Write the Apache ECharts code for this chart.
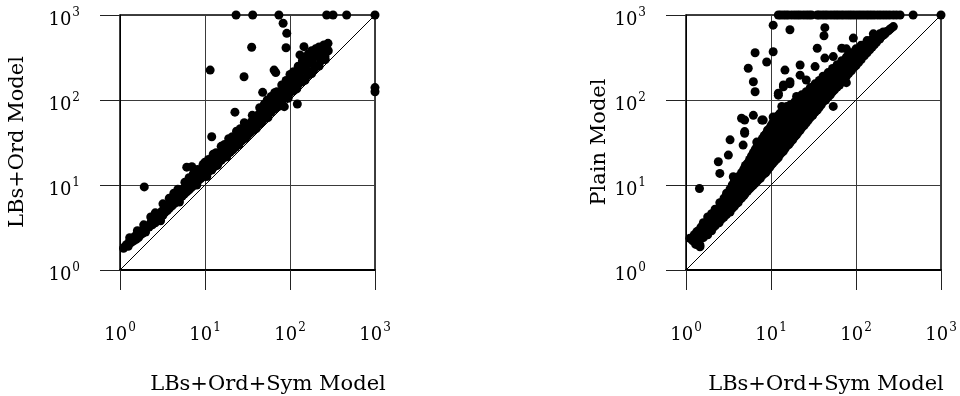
<!DOCTYPE html>
<html>
<head>
<meta charset="utf-8">
<script src="https://cdn.jsdelivr.net/npm/echarts@6/dist/echarts.min.js"></script>
<style>
  html, body { margin: 0; padding: 0; background: #fff; }
  #chart { width: 960px; height: 396px; }
</style>
</head>
<body>
<div id="chart"></div>
<script>
// Solve times per instance: x = LBs+Ord+Sym model, y = the compared model (log scale, 1000 = timeout)
const xTitle = 'LBs+Ord+Sym Model';
const yTitleLeft = 'LBs+Ord Model';
const yTitleRight = 'Plain Model';
const decadeExponents = [0, 1, 2, 3];
const axisMin = 1;
const axisMax = 1000;

// y = x reference line
const diagonal = [[1, 1], [1000, 1000]];

// LBs+Ord model vs LBs+Ord+Sym model
const lbsOrdPoints = [
  [1.1,1.8],[1.15,1.9],[1.2,2.0],[1.25,1.9],[1.3,2.2],[1.35,2.1],[1.4,2.3],[1.45,2.2],[1.5,2.5],[1.55,2.3],
  [1.6,2.6],[1.65,2.4],[1.7,2.8],[1.75,2.6],[1.8,2.9],[1.85,2.7],[1.9,3.0],[2.0,3.1],[2.0,2.8],[2.1,3.3],
  [2.2,3.2],[2.3,3.6],[2.4,3.4],[2.5,3.9],[2.6,3.6],[2.7,4.2],[2.8,3.9],[2.9,4.5],[3.0,4.2],[3.1,4.9],
  [3.2,4.4],[3.3,5.2],[3.4,4.8],[3.5,5.6],[3.6,5.0],[3.7,6.0],[3.8,5.3],[4.0,6.4],[4.1,5.7],[4.2,6.8],
  [4.4,6.1],[4.5,7.3],[4.7,6.5],[4.8,7.9],[5.0,6.9],[5.2,8.5],[5.4,7.4],[5.5,9.0],[5.7,7.8],[5.9,9.6],
  [6.1,8.3],[6.3,10.3],[6.5,8.8],[6.7,11.0],[6.9,9.3],[7.1,11.8],[7.4,9.9],[7.6,12.5],[7.8,10.5],[8.0,13.2],
  [8.3,11.2],[8.6,14.0],[8.9,11.9],[9.2,15.0],[9.5,12.6],[9.8,16.0],[10.2,13.4],[10.5,17],[10.9,14.2],[11.3,18],
  [11.7,15.1],[12.1,19.5],[12.6,16.1],[13,21],[13.5,17.2],[14,22.5],[14.5,18.4],[15,24],[15.6,19.7],[16.2,26],
  [16.8,21],[17.5,28],[18.2,22.6],[19,30],[19.7,24.3],[20.5,33],[21.3,26],[22.2,35],[23,28],[24,38],
  [25,30],[26,41],[27,33],[28,44],[29,35],[30.5,48],[31.5,38],[33,52],[34,41],[35.5,56],
  [37,44],[38.5,61],[40,48],[41.5,66],[43,52],[45,71],[47,56],[49,77],[51,61],[53,84],
  [55,66],[57,91],[60,72],[62,99],[65,78],[67,107],[70,85],[73,116],[76,92],[79,126],
  [82,100],[86,137],[89,108],[93,148],[97,117],[101,160],[105,127],[110,175],[114,138],[119,190],
  [124,150],[130,210],[135,163],[141,228],[147,177],[153,250],[160,193],[167,275],[175,210],[183,300],
  [192,230],[200,330],[210,255],[220,360],[232,290],[245,400],[258,330],[270,440],[282,380],
  [1.3,2.4],[1.9,3.4],[2.6,4.7],[3.2,6.0],[4.3,8.0],[5.8,10.8],[6.5,12.2],[7.3,13.6],[8.2,15.2],[9.5,17.5],
  [11,20],[13.5,24],[17,30],[21,37],[26,46],[50,90],[60,110],[70,125],[80,150],[90,170],
  [100,200],[110,215],[125,250],[131,339],[140,290],[146,424],[150,320],[165,350],[180,380],[200,400],
  [220,420],[250,445],[280,464],
  [1.6,2.9],[2.3,4.2],[3.8,7],[4.8,8.9],[10,18.5],[12.5,23],[15.5,28.5],[19,35],[23.5,43],[29,54],
  [36,66],[44,81],[54,100],[66,122],
  [10,14.5],[12,17.5],[14.5,21],[17.5,25.5],[21,30.5],[25,36],[30,43.5],[36,52],[43,62],[52,75],
  [62,90],[75,108],[90,130],[108,156],[130,188],[155,225],[185,268],[220,320],
  [3,3.8],[5,6.3],[8,10],[12,15],[20,25],[35,44],[40,46],[55,62],[60,75],[75,85],
  [90,112],[95,105],[120,135],[150,170],[180,205],[220,250],[260,300],
  [10.5,12.6],[14,17],[18,21.5],[25,30],[30,36],[45,53],[70,82],[110,128],
  [1.93,9.5],[6.1,16.2],[7.0,16.4],[12,37],[22.5,72],[28.8,188],[11.5,225],[35.4,417],[47.7,123],[65,225],
  [68,210],[83,800],[91.6,609],[89.8,412],[85.7,83.5],[122,89.7],[114.5,150],[1000,140],[1000,125],
  [23.2,1000],[36.4,1000],[74,1000],[270,1000],[321,1000],[464,1000],[1000,1000]
];

// Plain model vs LBs+Ord+Sym model
const plainPoints = [
  [1.11,2.36],[1.17,2.36],[1.2,2.2],[1.3,2.5],[1.3,2.0],[1.34,2.82],[1.4,2.9],[1.4,2.2],[1.46,1.97],[1.46,1.88],
  [1.5,2.6],[1.5,3.2],[1.6,2.4],[1.6,3.0],[1.6,3.6],[1.7,2.8],[1.7,3.3],[1.8,2.6],[1.8,3.6],[1.8,4.2],
  [1.9,3.0],[1.9,4.0],[2.0,2.9],[2.0,3.5],[2.0,4.6],[2.1,3.2],[2.1,4.0],[2.2,3.3],[2.2,4.4],[2.2,5.2],
  [2.35,3.6],[2.35,4.8],[2.5,3.8],[2.5,5.0],[2.5,6.2],[2.65,4.0],[2.65,5.5],[2.8,4.2],[2.8,5.8],[2.8,7.0],
  [3.0,4.5],[3.0,6.2],[3.0,8.0],[3.15,5.0],[3.15,6.8],[3.3,4.8],[3.3,7.3],[3.3,9.0],[3.5,5.3],[3.5,7.0],
  [3.5,10.0],[3.7,5.6],[3.7,8.0],[3.7,11],[3.9,6.0],[3.9,8.6],[4.1,6.2],[4.1,9.2],[4.1,12.5],[4.3,6.8],
  [4.3,10],[4.5,7.0],[4.5,10.5],[4.5,14],[4.8,7.5],[4.8,11],[4.8,15.5],[5.0,8.0],[5.0,12],[5.0,17],
  [5.3,8.5],[5.3,13],[5.3,18],[5.6,9.0],[5.6,13.5],[5.6,20],[5.9,9.5],[5.9,15],[5.9,22],[6.2,10],
  [6.2,16],[6.2,24],[6.5,10.5],[6.5,17],[6.5,26],[6.8,11],[6.8,18],[6.8,28],[7.1,11.5],[7.1,19],
  [7.1,30],[7.5,12],[7.5,20],[7.5,32],[7.9,13],[7.9,22],[7.9,35],[8.3,13.5],[8.3,23],[8.3,38],
  [8.7,14],[8.7,25],[8.7,40],[9.1,15],[9.1,26],[9.1,44],[9.6,16],[9.6,28],[9.6,46],[10,17],
  [10,30],[10,50],[10.5,18],[10.5,32],[10.5,54],[11,19],[11,34],[11,58],[11.6,20],[11.6,36],
  [11.6,62],[12.2,21],[12.2,38],[12.2,66],[12.8,23],[12.8,40],[12.8,70],[13.4,24],[13.4,42],[14,25],
  [14,45],[14,76],[14.7,27],[14.7,48],[15.4,29],[15.4,50],[15.4,82],[16.2,30],[16.2,54],[17,32],
  [17,57],[17,88],[18,34],[18,60],[19,37],[19,64],[19,95],[20,39],[20,68],[21,42],
  [21,72],[21,105],[22,44],[22,76],[23,47],[23,80],[23,115],[24.5,50],[24.5,84],[26,54],
  [26,90],[26,125],[27.5,58],[27.5,96],[29,62],[29,100],[29,140],[31,66],[31,108],[33,72],
  [33,115],[33,155],[35,76],[35,122],[37,82],[37,130],[37,170],[39,88],[39,138],[41,95],
  [41,146],[41,190],[44,100],[44,155],[47,108],[47,165],[47,210],[50,115],[50,175],[53,125],
  [53,185],[53,235],[56,132],[56,195],[60,142],[60,210],[60,260],[64,150],[64,225],[68,165],
  [68,240],[68,290],[72,175],[72,255],[77,160],[77,190],[77,270],[77,320],[77,400],[82,205],
  [82,290],[88,220],[88,310],[88,360],[94,240],[94,330],[100,255],[100,350],[100,400],[107,275],
  [107,370],[115,300],[115,390],[115,440],[125,330],[125,420],[135,360],[135,450],[135,500],[145,390],
  [145,480],[155,420],[155,520],[165,450],[165,560],[175,480],[190,520],[190,600],[210,580],[230,640],
  [260,700],
  [1.25,2.6],[1.35,2.3],[1.45,2.5],[1.55,2.9],[1.65,2.7],[1.75,3.1],[1.85,3.3],[1.95,3.7],[2.05,3.3],[2.15,3.8],
  [2.25,4.0],[2.4,4.3],[2.45,3.6],[2.6,4.6],[2.7,5.2],[2.9,5.0],[2.95,6.6],[3.1,5.6],[3.2,7.6],[3.4,6.2],
  [3.45,8.3],[3.6,6.5],[3.65,9.2],[3.8,7.2],[3.85,10],[4.0,7.6],[4.0,10.8],[4.2,8.2],[4.25,11.5],[4.4,8.8],
  [4.4,12.5],[4.65,9.5],[4.7,13],[4.9,10],[4.95,14],[5.15,10.5],[5.2,15],[5.45,11],[5.5,16],[5.75,12],
  [5.8,18],[6.0,12.8],[6.1,19],[6.35,13.5],[6.4,21],[6.65,14],[6.7,22],[6.95,15],[7.0,24],[7.3,16],
  [7.35,26],[7.7,17],[7.7,27],[8.1,18],[8.1,29],[8.5,19],[8.5,31],[8.9,20],[8.9,34],[9.3,21],
  [9.4,36],[9.8,22],[9.9,38],[10.2,24],[10.3,40],[10.8,25],[10.8,43],[11.3,27],[11.4,46],[11.9,28],
  [12,49],[12.5,30],[12.5,52],[13.1,32],[13.1,56],[13.7,33],[13.8,60],[14.4,36],[14.4,62],[15,38],
  [15,66],[15.8,40],[15.8,70],[16.6,43],[16.6,72],[17.5,45],[17.5,76],[18.5,48],[18.5,80],[19.5,50],
  [19.5,84],[20.5,54],[20.5,88],[21.5,58],[21.5,92],[22.5,60],[22.5,97],[23.8,64],[23.8,102],[25,68],
  [25,108],[26.8,72],[26.8,112],[28,78],[28,120],[30,82],[30,125],[32,88],[32,132],[34,94],
  [34,140],[36,100],[36,148],[38,108],[38,155],[40,115],[40,165],[42,120],[42,172],[45,128],
  [45,180],[48,135],[48,190],[51,145],[51,200],[54,155],[54,212],[58,165],[58,225],[62,178],
  [62,240],[66,190],[66,255],[70,200],[70,270],[74,212],[74,285],[80,225],[80,300],[85,240],
  [85,320],[91,260],[91,340],[97,280],[97,360],[103,300],[103,380],[110,320],[110,400],[120,350],
  [120,410],[130,370],[130,440],[140,400],[140,420],[150,440],[150,500],[160,470],[170,500],[180,520],
  [185,560],[200,560],[220,600],[240,650],[250,680],
  [10.6,760],[16.7,670],[43,710],[42,570],[275,730],[10.6,370],[6.5,360],[8.9,280],[5.4,236],[6.2,164],
  [6.5,125],[14.6,225],[22,258],[22,196],[33,247],[35,406],[43,311],[54,324],[68,406],[93,535],
  [26,172],[16.7,164],[14,150],[12.2,120],[15.3,84],[4.5,61],[6.2,66],[7.8,58],[54,84],[20,110],
  [175,560],[140,465],[126,406],[85,282],[160,600],[209,630],[1.44,9.1],[2.5,13.7],[2.4,18.8],[3.15,22.5],
  [3.3,34],[4.9,40.6],[4.7,29.5],[6.8,32],[8.9,39],[12.2,114],[14,143],[16.7,155],[4.9,58],[4.9,42.5],
  [8.1,58],[13.4,84],[10.6,63],[3.6,12.5],
  [12.2,1000],[13,1000],[14,1000],[15,1000],[16,1000],[17.5,1000],[19,1000],[20.5,1000],[22,1000],[24,1000],
  [26,1000],[28,1000],[30,1000],[35,1000],[37,1000],[40,1000],[43,1000],[46,1000],[50,1000],[54,1000],
  [58,1000],[62,1000],[67,1000],[72,1000],[78,1000],[84,1000],[90,1000],[97,1000],[105,1000],[113,1000],
  [122,1000],[132,1000],[142,1000],[153,1000],[165,1000],[180,1000],[195,1000],[212,1000],[230,1000],[250,1000],
  [275,1000],[300,1000],[330,1000],[470,1000],[1000,1000]
];

const FONT = 'DejaVu Serif';

const powerRich = {
  b: { fontFamily: FONT, fontSize: 18, lineHeight: 20, color: '#000', verticalAlign: 'bottom' },
  s: { fontFamily: FONT, fontSize: 12, lineHeight: 12, color: '#000', verticalAlign: 'bottom', padding: [0, 0, 10, 1] }
};

function powerLabel(v) {
  const e = Math.round(Math.log10(v));
  return decadeExponents.includes(e) ? '{b|10}{s|' + e + '}' : '';
}

function logAxis(gridIndex, isX) {
  return {
    type: 'log',
    logBase: 10,
    gridIndex: gridIndex,
    min: axisMin,
    max: axisMax,
    axisLine: { show: true, onZero: false, lineStyle: { color: '#000', width: isX ? 2 : 1 } },
    axisTick: { show: true, inside: false, length: 20, lineStyle: { color: '#222', width: 1 } },
    minorTick: { show: false },
    splitLine: { show: true, lineStyle: { color: '#3a3a3a', width: 1 } },
    axisLabel: {
      margin: isX ? 54 : 40,
      padding: isX ? 0 : [8, 0, 0, 0],
      formatter: powerLabel,
      rich: powerRich
    }
  };
}

function dotSeries(idx, data) {
  return {
    type: 'scatter',
    xAxisIndex: idx,
    yAxisIndex: idx,
    data: data,
    symbol: 'circle',
    symbolSize: 9,
    itemStyle: { color: '#000', opacity: 1 },
    z: 3
  };
}

function diagSeries(idx) {
  return {
    type: 'line',
    xAxisIndex: idx,
    yAxisIndex: idx,
    data: diagonal,
    symbol: 'none',
    lineStyle: { color: '#000', width: 1 },
    z: 2,
    silent: true
  };
}

const titleStyle = { fontFamily: FONT, fontSize: 21, fill: '#000' };

const chart = echarts.init(document.getElementById('chart'), null, { renderer: 'canvas' });
chart.setOption({
  animation: false,
  backgroundColor: '#fff',
  textStyle: { fontFamily: FONT },
  grid: [
    { left: 120, top: 15, width: 255, height: 255, show: true, borderColor: '#000', borderWidth: 1.5, backgroundColor: 'transparent' },
    { left: 686, top: 15, width: 255, height: 255, show: true, borderColor: '#000', borderWidth: 1.5, backgroundColor: 'transparent' }
  ],
  xAxis: [logAxis(0, true), logAxis(1, true)],
  yAxis: [logAxis(0, false), logAxis(1, false)],
  series: [
    diagSeries(0),
    dotSeries(0, lbsOrdPoints),
    diagSeries(1),
    dotSeries(1, plainPoints)
  ],
  graphic: [
    { type: 'text', x: 268, y: 385, style: Object.assign({ text: xTitle, align: 'center', verticalAlign: 'middle' }, titleStyle) },
    { type: 'text', x: 826, y: 385, style: Object.assign({ text: xTitle, align: 'center', verticalAlign: 'middle' }, titleStyle) },
    { type: 'text', x: 18, y: 142, rotation: Math.PI / 2, style: Object.assign({ text: yTitleLeft, align: 'center', verticalAlign: 'middle' }, titleStyle) },
    { type: 'text', x: 600, y: 142, rotation: Math.PI / 2, style: Object.assign({ text: yTitleRight, align: 'center', verticalAlign: 'middle' }, titleStyle) }
  ]
});
</script>
</body>
</html>
